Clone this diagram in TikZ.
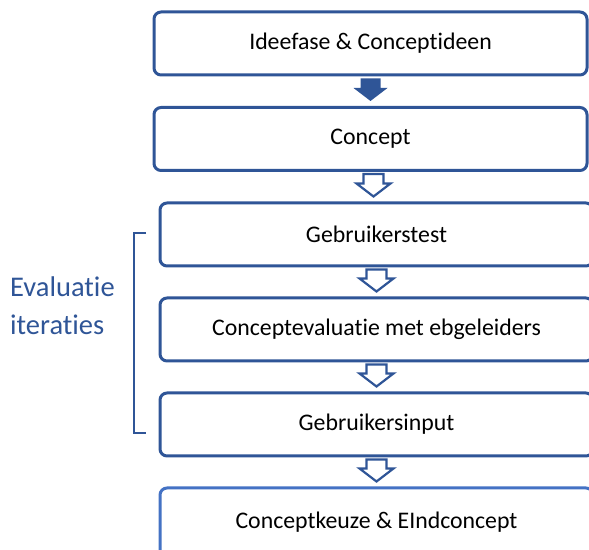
\documentclass[tikz,border=0pt]{standalone}
\usepackage{fontspec}
\setmainfont{Carlito}[RawFeature={-liga}]
\usetikzlibrary{calc,positioning}

\definecolor{donkerblauw}{RGB}{47,85,151}
\definecolor{lichtblauw}{RGB}{68,114,196}

\tikzset{
  fase/.style={draw=donkerblauw, line width=3pt, rounded corners=7pt, fill=white,
    minimum width=433pt, minimum height=63pt, inner sep=0pt,
    font=\fontsize{23.8}{28}\selectfont},
  volpijl/.style={fill=donkerblauw},
  holpijl/.style={draw=donkerblauw, line width=2.2pt, fill=white, line join=miter}
}

% blokpijl van het ene vak naar het volgende
\newcommand{\blokpijl}[3][holpijl]{%
  \path[#1] let \p1=($(#2.south)!0.5!(#3.north)$), \p2=(#2.south), \p3=(#3.north) in
    (\x1-10pt,\y2-2pt) -- (\x1+10pt,\y2-2pt) -- (\x1+10pt,\y3+18pt)
    -- (\x1+17pt,\y3+18pt) -- (\x1,\y3+5pt) -- (\x1-17pt,\y3+18pt)
    -- (\x1-10pt,\y3+18pt) -- cycle;}

\begin{document}
\begin{tikzpicture}[x=1pt, y=1pt]
		\useasboundingbox (0,0) rectangle (589,549);
		
		\path (370.5, 505.5)  node[fase] (idee)     {Ideefase \& Conceptideen}
		      (370.5, 410)    node[fase] (concept)  {Concept}
		      (376.5, 314.5)  node[fase] (test)     {Gebruikerstest}
		      (376.5, 219.5)  node[fase] (evaluatie) {Conceptevaluatie met ebgeleiders}
		      (376.5, 124.5)  node[fase] (input)    {Gebruikersinput}
		      (376.5, 27)     node[fase, draw=lichtblauw, minimum height=68pt] (keuze) {Conceptkeuze \& EIndconcept};
		
		\blokpijl[volpijl]{idee}{concept}
		\blokpijl{concept}{test}
		\blokpijl{test}{evaluatie}
		\blokpijl{evaluatie}{input}
		\blokpijl{input}{keuze}
		
		% haak voor de iteraties
		\coordinate (haakboven) at (146, 316);
		\coordinate (haakonder) at (146, 116);
		\draw[donkerblauw, line width=2.5pt] (haakboven) -- ++(-12,0) |- (haakonder);
		\node[anchor=west, align=left, text=donkerblauw, inner sep=0pt,
		      font=\fontsize{28.5}{38}\selectfont] (label) at (10, 243) {Evaluatie\\iteraties};
	\end{tikzpicture}
\end{document}
